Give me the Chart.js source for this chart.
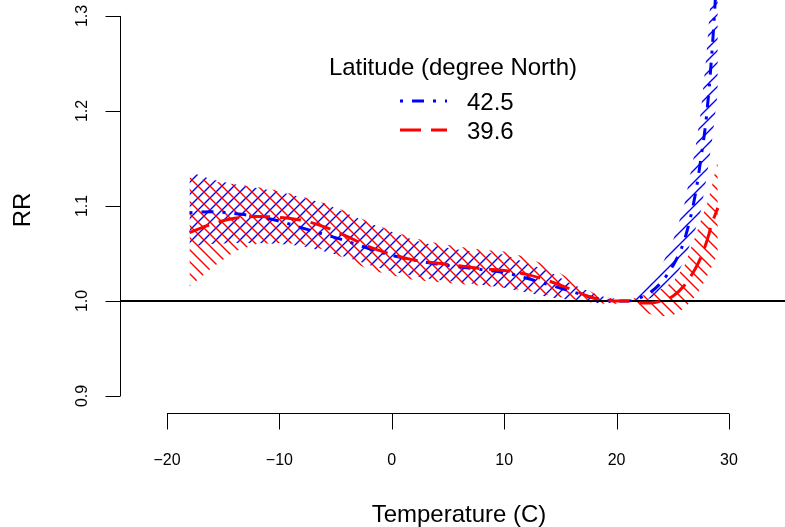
<!DOCTYPE html>
<html>
<head>
<meta charset="utf-8">
<script src="https://cdn.jsdelivr.net/npm/chart.js@4.4.1/dist/chart.umd.min.js"></script>
<style>
  html, body { margin: 0; padding: 0; background: #fff; }
  #chart { display: block; }
</style>
</head>
<body>
<canvas id="chart" width="785" height="527"></canvas>
<script>
const temps = [-18, -16, -14, -12, -10, -8, -6, -4, -2, 0, 2, 4, 6, 8, 10, 12, 14, 16, 18,
               19, 20, 21, 22, 23, 24, 25, 26, 27, 27.5, 28, 28.5, 29];

// latitude 42.5
const blueRR = [1.093, 1.094, 1.092, 1.089, 1.084, 1.077, 1.070, 1.063, 1.055, 1.048, 1.043, 1.039, 1.036, 1.033, 1.030, 1.024, 1.017, 1.010, 1.003,
                1.001, 1.000, 1.000, 1.003, 1.009, 1.020, 1.037, 1.063, 1.112, 1.150, 1.195, 1.265, 1.360];
const blueHi = [1.136, 1.128, 1.123, 1.119, 1.115, 1.109, 1.103, 1.092, 1.082, 1.073, 1.064, 1.058, 1.054, 1.051, 1.049, 1.040, 1.031, 1.018, 1.008,
                1.004, 1.002, 1.000, 1.013, 1.024, 1.037, 1.063, 1.100, 1.160, 1.200, 1.260, 1.340, 1.450];
const blueLo = [1.057, 1.060, 1.061, 1.061, 1.060, 1.058, 1.052, 1.046, 1.038, 1.031, 1.026, 1.022, 1.020, 1.017, 1.014, 1.009, 1.004, 1.001, 0.998,
                0.998, 0.998, 1.000, 0.999, 1.003, 1.010, 1.020, 1.042, 1.075, 1.095, 1.130, 1.170, 1.220];

// latitude 39.6
const redRR = [1.072, 1.081, 1.087, 1.089, 1.088, 1.085, 1.078, 1.068, 1.057, 1.049, 1.043, 1.040, 1.037, 1.034, 1.032, 1.028, 1.021, 1.012, 1.003,
               1.001, 1.000, 1.000, 0.998, 0.998, 1.000, 1.005, 1.016, 1.034, 1.046, 1.062, 1.082, 1.098];
const redHi = [1.130, 1.126, 1.123, 1.120, 1.116, 1.110, 1.103, 1.094, 1.083, 1.074, 1.066, 1.061, 1.057, 1.054, 1.052, 1.046, 1.036, 1.022, 1.008,
               1.004, 1.002, 1.000, 1.005, 1.008, 1.013, 1.020, 1.036, 1.068, 1.085, 1.100, 1.122, 1.148];
const redLo = [1.015, 1.035, 1.052, 1.060, 1.061, 1.060, 1.054, 1.044, 1.033, 1.027, 1.022, 1.020, 1.018, 1.016, 1.014, 1.011, 1.006, 1.002, 0.998,
               0.997, 0.997, 1.000, 0.990, 0.986, 0.984, 0.985, 0.992, 1.005, 1.014, 1.025, 1.037, 1.050];

const xTicks = [-20, -10, 0, 10, 20, 30];
const xTickLabels = ['\u221220', '\u221210', '0', '10', '20', '30'];
const yTicks = [0.9, 1.0, 1.1, 1.2, 1.3];
const yTickLabels = ['0.9', '1.0', '1.1', '1.2', '1.3'];
const seriesNames = ['42.5', '39.6'];
const refRR = 1.0;

const FONT = '"Liberation Sans", Arial, Helvetica, sans-serif';

function pts(ys) {
    return temps.map((t, i) => ({x: t, y: ys[i]}));
}

function hatch(color, dir) {
    const s = 12;
    const c = document.createElement('canvas');
    c.width = s; c.height = s;
    const g = c.getContext('2d');
    g.strokeStyle = color;
    g.lineWidth = 1.4;
    g.beginPath();
    for (let k = -1; k <= 1; k++) {
        if (dir > 0) {
            // "/" lines
            g.moveTo(-2 + k * s, s + 2);
            g.lineTo(s + 2 + k * s, -2);
        } else {
            // "\" lines
            g.moveTo(-2 + k * s, -2);
            g.lineTo(s + 2 + k * s, s + 2);
        }
    }
    g.stroke();
    return g.createPattern(c, 'repeat');
}

const rAxes = {
    id: 'rAxes',
    afterDraw(chart) {
        const ctx = chart.ctx;
        const xs = chart.scales.x, ys = chart.scales.y;
        const left = chart.chartArea.left + 0.5;
        const bottom = chart.chartArea.bottom + 0.5;
        ctx.save();
        ctx.strokeStyle = '#000';
        ctx.fillStyle = '#000';
        ctx.lineWidth = 1;

        // y axis
        ctx.beginPath();
        ctx.moveTo(left, ys.getPixelForValue(yTicks[0]));
        ctx.lineTo(left, ys.getPixelForValue(yTicks[yTicks.length - 1]));
        yTicks.forEach(v => {
            const p = Math.round(ys.getPixelForValue(v)) + 0.5;
            ctx.moveTo(left - 15, p);
            ctx.lineTo(left, p);
        });
        // x axis
        ctx.moveTo(xs.getPixelForValue(xTicks[0]), bottom);
        ctx.lineTo(xs.getPixelForValue(xTicks[xTicks.length - 1]), bottom);
        xTicks.forEach(v => {
            const p = Math.round(xs.getPixelForValue(v)) + 0.5;
            ctx.moveTo(p, bottom);
            ctx.lineTo(p, bottom + 16);
        });
        ctx.stroke();

        ctx.font = '16px ' + FONT;
        ctx.textAlign = 'center';
        ctx.textBaseline = 'alphabetic';
        xTicks.forEach((v, i) => {
            ctx.fillText(xTickLabels[i], xs.getPixelForValue(v), 465);
        });
        yTicks.forEach((v, i) => {
            ctx.save();
            ctx.translate(87, ys.getPixelForValue(v));
            ctx.rotate(-Math.PI / 2);
            ctx.fillText(yTickLabels[i], 0, 0);
            ctx.restore();
        });

        ctx.font = '24px ' + FONT;
        ctx.fillText('Temperature (C)', 459, 522);
        ctx.save();
        ctx.translate(30, 210);
        ctx.rotate(-Math.PI / 2);
        ctx.fillText('RR', 0, 0);
        ctx.restore();

        // legend
        ctx.fillText('Latitude (degree North)', 453, 75);
        ctx.textAlign = 'left';
        ctx.fillText(seriesNames[0], 467, 110);
        ctx.fillText(seriesNames[1], 467, 139);
        ctx.lineWidth = 3;
        ctx.strokeStyle = '#0000ff';
        ctx.setLineDash([3, 9, 12, 9]);
        ctx.beginPath();
        ctx.moveTo(400, 101);
        ctx.lineTo(447, 101);
        ctx.stroke();
        ctx.strokeStyle = '#ff0000';
        ctx.setLineDash([21, 10]);
        ctx.beginPath();
        ctx.moveTo(400, 130);
        ctx.lineTo(447, 130);
        ctx.stroke();
        ctx.restore();
    }
};

const band = {borderWidth: 0, pointRadius: 0, tension: 0};

const ctx = document.getElementById('chart');
const myChart = new Chart(ctx, {
    type: 'line',
    data: {
        datasets: [
            Object.assign({label: 'hi ' + seriesNames[0], data: pts(blueHi), fill: '+1', backgroundColor: hatch('#0000ff', 1), order: 4}, band),
            Object.assign({label: 'lo ' + seriesNames[0], data: pts(blueLo), fill: false, order: 4}, band),
            Object.assign({label: 'hi ' + seriesNames[1], data: pts(redHi), fill: '+1', backgroundColor: hatch('#ff0000', -1), order: 3}, band),
            Object.assign({label: 'lo ' + seriesNames[1], data: pts(redLo), fill: false, order: 3}, band),
            {
                label: 'ref',
                data: [{x: -40, y: refRR}, {x: 60, y: refRR}],
                borderColor: '#000',
                borderWidth: 2,
                pointRadius: 0,
                fill: false,
                order: 2
            },
            {
                label: seriesNames[0],
                data: pts(blueRR),
                borderColor: '#0000ff',
                borderWidth: 3,
                borderDash: [3, 9, 12, 9],
                pointRadius: 0,
                fill: false,
                cubicInterpolationMode: 'monotone',
                order: 1
            },
            {
                label: seriesNames[1],
                data: pts(redRR),
                borderColor: '#ff0000',
                borderWidth: 3,
                borderDash: [21, 10],
                pointRadius: 0,
                fill: false,
                cubicInterpolationMode: 'monotone',
                order: 0
            }
        ]
    },
    options: {
        responsive: false,
        animation: false,
        devicePixelRatio: 1,
        layout: {padding: {left: 120, right: 0, top: 0, bottom: 114}},
        scales: {
            x: {type: 'linear', display: false, min: -24.18, max: 34.98},
            y: {type: 'linear', display: false, min: 0.8821, max: 1.3168}
        },
        plugins: {
            legend: {display: false},
            tooltip: {enabled: false}
        }
    },
    plugins: [rAxes]
});
</script>
</body>
</html>
